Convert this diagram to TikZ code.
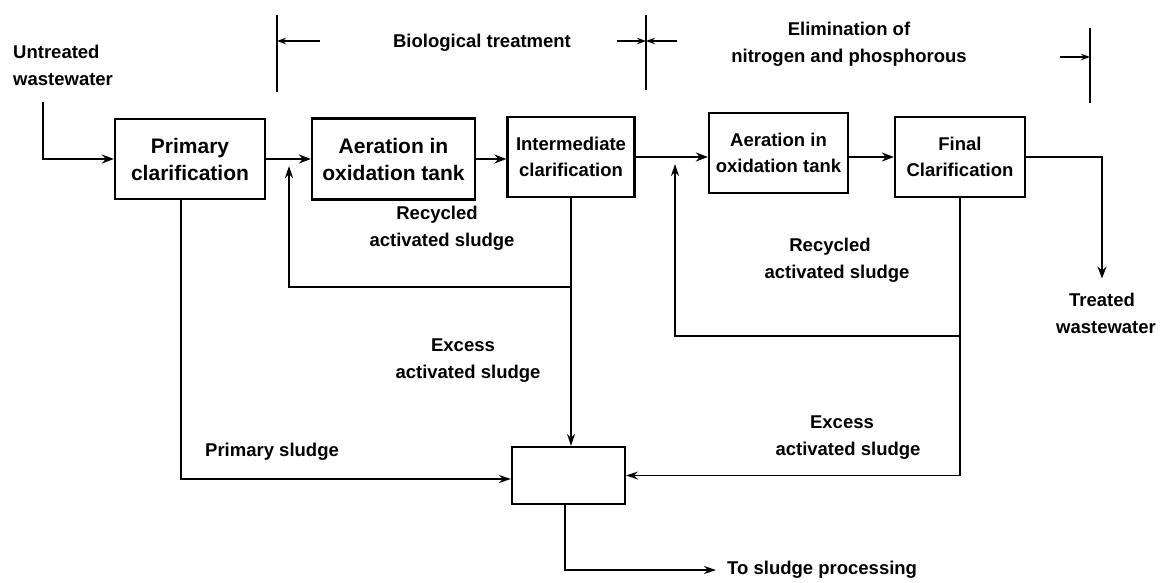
\documentclass[tikz,border=0pt]{standalone}
\usepackage{fontspec}
\setmainfont{Liberation Sans}
\usetikzlibrary{arrows.meta}
\begin{document}
\begin{tikzpicture}[x=1pt,y=-1pt,
  box/.style={draw, line width=2.2pt, inner sep=2pt, align=center},
  bigtxt/.style={font=\bfseries\fontsize{21}{27}\selectfont},
  midtxt/.style={font=\bfseries\fontsize{18.5}{26}\selectfont},
  lbl/.style={font=\bfseries\fontsize{18.5}{27}\selectfont, align=center, inner sep=0pt},
  flow/.style={line width=2.2pt, -{Stealth[length=12pt,width=9pt]}},
  thinflow/.style={line width=1.7pt, -{Stealth[length=12pt,width=8pt]}},
  thin/.style={line width=1.7pt},
  bar/.style={line width=1.8pt},
  barflow/.style={line width=1.8pt, -{Stealth[length=9pt,width=6.5pt]}}
]
\useasboundingbox (0,0) rectangle (1161,582);

% process boxes
\node[box, bigtxt, minimum width=150pt, minimum height=80pt] (prim) at (190,159) {Primary\\clarification};
\node[box, bigtxt, minimum width=163pt, minimum height=81pt] (aer1) at (393.5,159) {Aeration in\\oxidation tank};
\node[box, midtxt, minimum width=127pt, minimum height=80pt] (inter) at (571,157) {Intermediate\\clarification};
\node[box, midtxt, minimum width=139pt, minimum height=80pt] (aer2) at (778.5,153) {Aeration in\\oxidation tank};
\node[box, midtxt, minimum width=130pt, minimum height=80pt] (fin) at (960,157) {Final\\Clarification};
\node[box, minimum width=113pt, minimum height=57pt] (mix) at (568.5,475.5) {};

% labels
\node[lbl, align=left, anchor=west] (untr) at (13,65.5) {Untreated\\wastewater};
\node[lbl] (tw) at (1102,313) {Treated\\\hspace*{8pt}wastewater};
\node[lbl] (bio) at (482,43) {Biological treatment};
\node[lbl] (elim) at (849,44.5) {Elimination of\\nitrogen and phosphorous};
\node[lbl] (rec1) at (437,228.5) {Recycled\\\hspace*{10pt}activated sludge};
\node[lbl] (rec2) at (830,260) {Recycled\\\hspace*{14pt}activated sludge};
\node[lbl] (exc1) at (463,361) {Excess\\\hspace*{10pt}activated sludge};
\node[lbl] (exc2) at (842,438) {Excess\\\hspace*{12pt}activated sludge};
\node[lbl, anchor=west] (psl) at (205,452) {Primary sludge};
\node[lbl, anchor=west] (tsp) at (727,570) {To sludge processing};

% helper coordinates
\coordinate (in0) at (43,102);
\coordinate (ps) at (181,479);
\coordinate (r1) at (289,287);
\coordinate (j1) at (289,166);
\coordinate (r2) at (675,336);
\coordinate (j2) at (675,164);
\coordinate (sp) at (565,570);

% main line
\draw[flow] (in0) |- (prim.west);
\draw[flow] (prim.east) -- (aer1.west);
\draw[flow] (aer1.east) -- (aer1.east -| inter.west);
\draw[flow] (inter.east) -- (inter.east -| aer2.west);
\draw[flow] (fin.west -| aer2.east) -- (fin.west);
\draw[flow] (fin.east) -| ([yshift=14pt]tw.north);

% recycle loops
\draw[thinflow] (inter.south |- r1) -| (j1);
\draw[thinflow] (fin.south |- r2) -| (j2);

% sludge lines
\draw[thinflow] (inter.south) -- (inter.south |- mix.north);
\draw[thinflow] (fin.south) |- (mix.east);
\draw[thinflow] (prim.south -| ps) |- (mix.west |- ps);
\draw[thinflow] (mix.south -| sp) |- ([xshift=-11pt]tsp.west);

% header brackets
\coordinate (bl1) at (277,15); \coordinate (bl2) at (277,92);
\coordinate (bm1) at (646,15); \coordinate (bm2) at (646,90);
\coordinate (br1) at (1090,28); \coordinate (br2) at (1090,103);
\coordinate (al) at (320,41); \coordinate (aml) at (617,41);
\coordinate (amr) at (677,41); \coordinate (ar) at (1060,57);
\draw[bar] (bl1) -- (bl2);
\draw[bar] (bm1) -- (bm2);
\draw[bar] (br1) -- (br2);
\draw[barflow] (al) -- (al -| bl1);
\draw[barflow] (aml) -- (aml -| bm1);
\draw[barflow] (amr) -- (amr -| bm1);
\draw[barflow] (ar) -- (ar -| br1);
\end{tikzpicture}
\end{document}
